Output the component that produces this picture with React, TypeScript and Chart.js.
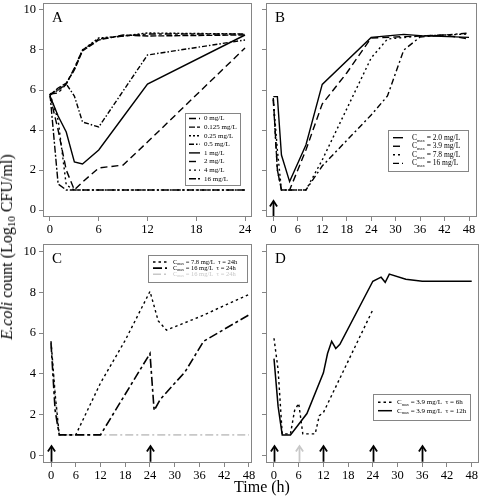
import React, { useEffect, useRef } from "react";
import { Chart, registerables } from "chart.js";
Chart.register(...registerables);

const SERIF = "'Liberation Serif', 'Times New Roman', serif";
const W = 481;
const H = 497;

// ---------------- Data ----------------
const yTicks = [0, 2, 4, 6, 8, 10];
const xTicksA = [0, 6, 12, 18, 24];
const xTicks48 = [0, 6, 12, 18, 24, 30, 36, 42, 48];

// Panel A: static time-kill
const labelsA = ["0 mg/L", "0.125 mg/L", "0.25 mg/L", "0.5 mg/L", "1 mg/L", "2 mg/L", "4 mg/L", "16 mg/L"];
const timesA = [0, 1, 2, 3, 4, 6, 9, 12, 24];
const countsA0 = [5.8, 5.85, 6.3, 7.1, 8.0, 8.55, 8.7, 8.8, 8.8];
const countsA0125 = [5.75, 6.1, 6.35, 7.0, 7.95, 8.5, 8.75, 8.7, 8.75];
const countsA025 = [5.8, 6.0, 6.3, 7.05, 8.0, 8.6, 8.7, 8.85, 8.8];
const countsA05 = [5.75, 6.0, 6.3, 5.7, 4.4, 4.15, 5.95, 7.75, 8.5];
const countsA1 = [5.7, 4.7, 3.9, 2.4, 2.3, 3.0, 4.65, 6.3, 8.75];
const countsA2 = [5.7, 4.0, 2.0, 1.0, 1.4, 2.1, 2.25, 3.4, 8.1];
const countsA4 = [5.8, 4.5, 1.25, 1.0, 1.0, 1.0, 1.0, 1.0, 1.0];
const countsA16 = [5.8, 1.3, 1.0, 1.0, 1.0, 1.0, 1.0, 1.0, 1.0];

// Panel B: single dose
const labelsB = ["Cmax = 2.0 mg/L", "Cmax = 3.9 mg/L", "Cmax = 7.8 mg/L", "Cmax = 16 mg/L"];
const timesB20 = [0, 1, 2, 4, 8, 12, 24, 32, 36, 48];
const countsB20 = [5.67, 5.67, 2.75, 1.42, 3.25, 6.28, 8.63, 8.78, 8.72, 8.63];
const timesB39 = [0, 1, 2, 4, 8, 12, 18, 24, 36, 42, 48];
const countsB39 = [5.6, 2.0, 1.0, 1.0, 3.0, 5.3, 6.85, 8.6, 8.7, 8.75, 8.55];
const timesB78 = [0, 1, 2, 8, 12, 24, 28, 36, 48];
const countsB78 = [5.55, 3.0, 1.0, 1.0, 2.5, 7.6, 8.55, 8.7, 8.8];
const timesB16 = [0, 1, 2, 8, 12, 24, 28, 32, 36, 48];
const countsB16 = [5.5, 2.0, 1.0, 1.0, 2.2, 4.75, 5.7, 8.0, 8.65, 8.85];
const doseTimesB = [0];

// Panel C: tau = 24 h
const labelsC = ["Cmax = 7.8 mg/L  \u03c4 = 24h", "Cmax = 16 mg/L  \u03c4 = 24h", "Cmax = 16 mg/L  \u03c4 = 24h"];
const timesC78 = [0, 1, 2, 6, 12, 18, 24, 26, 28, 36, 48];
const countsC78 = [5.6, 3.0, 1.0, 1.0, 3.55, 5.65, 8.05, 6.6, 6.15, 6.8, 7.9];
const timesC16a = [0, 1, 2, 12, 24, 25, 26.5, 32.5, 37, 48];
const countsC16a = [5.5, 2.2, 1.0, 1.0, 5.0, 2.2, 2.75, 4.1, 5.6, 6.9];
const timesC16b = [0, 1, 2, 48];
const countsC16b = [5.6, 3.0, 1.0, 1.0];
const doseTimesC = [0, 24];

// Panel D: Cmax 3.9 mg/L, tau = 6 h / 12 h
const labelsD = ["Cmax = 3.9 mg/L  \u03c4 = 6h", "Cmax = 3.9 mg/L  \u03c4 = 12h"];
const timesD6 = [0, 1, 2, 4, 5, 6, 7, 10, 11, 12, 24];
const countsD6 = [5.75, 4.2, 1.05, 1.05, 2.2, 2.55, 1.05, 1.05, 1.95, 2.1, 7.15];
const timesD12 = [0, 1, 2, 4, 8, 12, 13, 14, 15, 16, 24, 26, 27, 28, 32, 36, 48];
const countsD12 = [4.75, 2.4, 1.0, 1.0, 2.05, 4.05, 5.0, 5.6, 5.25, 5.45, 8.55, 8.75, 8.5, 8.9, 8.65, 8.55, 8.55];
const doseTimesD = [0, 12, 24, 36];
const doseTimesDExtra = [6];

// ---------------- Helpers ----------------
function series(label: string, times: number[], counts: number[], dash: number[], color = "#000", width = 1.4) {
  return {
    label,
    data: times.map((t, i) => ({ x: t, y: counts[i] })),
    borderColor: color,
    borderWidth: width,
    borderDash: dash,
    pointRadius: 0,
    tension: 0,
    fill: false,
  };
}

function drawLabel(ctx: CanvasRenderingContext2D, text: string, x: number, y: number, size: number, color: string) {
  ctx.fillStyle = color;
  ctx.textBaseline = "middle";
  ctx.textAlign = "left";
  let cx = x;
  let rest = text;
  if (text.startsWith("Cmax")) {
    ctx.font = `${size}px ${SERIF}`;
    ctx.fillText("C", cx, y);
    cx += ctx.measureText("C").width;
    ctx.font = `${size * 0.6}px ${SERIF}`;
    ctx.fillText("max", cx, y + size * 0.35);
    cx += ctx.measureText("max").width;
    rest = text.slice(4);
  }
  ctx.font = `${size}px ${SERIF}`;
  ctx.fillText(rest, cx, y);
}

const decoPlugin = {
  id: "deco",
  afterDatasetsDraw(chart: any, _args: any, opts: any) {
    const ctx: CanvasRenderingContext2D = chart.ctx;
    const xs = chart.scales.x;
    const ys = chart.scales.y;
    const ca = chart.chartArea;
    ctx.save();
    // dose arrows
    (opts.arrows || []).forEach((g: any) => {
      g.times.forEach((t: number) => {
        const px = Math.round(xs.getPixelForValue(t)) + 0.5;
        const yb = ys.getPixelForValue(-0.32);
        const yt = ys.getPixelForValue(0.45);
        ctx.strokeStyle = g.color;
        ctx.lineWidth = 1.8;
        ctx.setLineDash([]);
        ctx.beginPath();
        ctx.moveTo(px, yb);
        ctx.lineTo(px, yt + 1);
        ctx.stroke();
        ctx.beginPath();
        ctx.moveTo(px - 3.6, yt + 5.5);
        ctx.lineTo(px, yt);
        ctx.lineTo(px + 3.6, yt + 5.5);
        ctx.stroke();
      });
    });
    ctx.restore();
  },
  afterDraw(chart: any, _args: any, opts: any) {
    const ctx: CanvasRenderingContext2D = chart.ctx;
    const ca = chart.chartArea;
    ctx.save();
    // plot box
    ctx.strokeStyle = "#858585";
    ctx.lineWidth = 1;
    ctx.setLineDash([]);
    ctx.strokeRect(Math.round(ca.left) + 0.5, Math.round(ca.top) + 0.5, Math.round(ca.right - ca.left) - 1, Math.round(ca.bottom - ca.top) - 1);
    // panel letter
    ctx.fillStyle = "#000";
    ctx.font = `15px ${SERIF}`;
    ctx.textAlign = "left";
    ctx.textBaseline = "alphabetic";
    ctx.fillText(opts.letter, ca.left + 9, ca.top + 18.5);
    // legend
    const lg = opts.legend;
    if (lg) {
      ctx.strokeStyle = "#858585";
      ctx.lineWidth = 1;
      ctx.strokeRect(Math.round(lg.x) + 0.5, Math.round(lg.y) + 0.5, Math.round(lg.w), Math.round(lg.h));
      chart.data.datasets.forEach((ds: any, i: number) => {
        const ry = lg.firstRow + i * lg.rowH;
        ctx.beginPath();
        ctx.setLineDash(ds.borderDash || []);
        ctx.strokeStyle = ds.borderColor;
        ctx.lineWidth = ds.borderWidth;
        ctx.moveTo(lg.sampleX, ry);
        ctx.lineTo(lg.sampleX + lg.sampleW, ry);
        ctx.stroke();
        ctx.setLineDash([]);
        drawLabel(ctx, ds.label, lg.textX, ry, lg.font, ds.borderColor === "#000" ? "#000" : ds.borderColor);
      });
    }
    ctx.restore();
  },
};

type Panel = {
  box: [number, number, number, number];
  xMin: number;
  xMax: number;
  xTicks: number[];
  yLabels: boolean;
  letter: string;
  datasets: any[];
  legend: any;
  arrows: any[];
};

const panels: Panel[] = [
  {
    box: [43, 3, 252, 217],
    xMin: -0.86,
    xMax: 24.86,
    xTicks: xTicksA,
    yLabels: true,
    letter: "A",
    datasets: [
      series(labelsA[0], timesA, countsA0, [7, 3, 3, 3]),
      series(labelsA[1], timesA, countsA0125, [6, 2]),
      series(labelsA[2], timesA, countsA025, [2, 2]),
      series(labelsA[3], timesA, countsA05, [5, 2, 1.5, 2]),
      series(labelsA[4], timesA, countsA1, []),
      series(labelsA[5], timesA, countsA2, [7, 4]),
      series(labelsA[6], timesA, countsA4, [2, 3]),
      series(labelsA[7], timesA, countsA16, [7, 2, 2, 2]),
    ],
    legend: { x: 185, y: 113, w: 55, h: 72, firstRow: 118.5, rowH: 8.6, sampleX: 189, sampleW: 11, textX: 204, font: 7 },
    arrows: [],
  },
  {
    box: [266, 3, 477, 217],
    xMin: -1.79,
    xMax: 49.96,
    xTicks: xTicks48,
    yLabels: false,
    letter: "B",
    datasets: [
      series(labelsB[0], timesB20, countsB20, []),
      series(labelsB[1], timesB39, countsB39, [7, 4]),
      series(labelsB[2], timesB78, countsB78, [2, 3]),
      series(labelsB[3], timesB16, countsB16, [6, 3, 2, 3]),
    ],
    legend: { x: 388, y: 130, w: 80, h: 41, firstRow: 137.7, rowH: 8.55, sampleX: 393, sampleW: 10, textX: 412, font: 7.5 },
    arrows: [{ times: doseTimesB, color: "#000" }],
  },
  {
    box: [43, 244, 252, 463],
    xMin: -1.94,
    xMax: 48.73,
    xTicks: xTicks48,
    yLabels: true,
    letter: "C",
    datasets: [
      series(labelsC[0], timesC78, countsC78, [2.5, 3]),
      series(labelsC[1], timesC16a, countsC16a, [9, 3, 3, 3], "#000", 1.6),
      series(labelsC[2], timesC16b, countsC16b, [8, 3, 2, 3], "#c8c8c8", 1.6),
    ],
    legend: { x: 148, y: 255, w: 99, h: 27, firstRow: 262, rowH: 6.1, sampleX: 153, sampleW: 14, textX: 173, font: 6.5 },
    arrows: [{ times: doseTimesC, color: "#000" }],
  },
  {
    box: [266, 244, 479, 463],
    xMin: -1.94,
    xMax: 49.77,
    xTicks: xTicks48,
    yLabels: false,
    letter: "D",
    datasets: [
      series(labelsD[0], timesD6, countsD6, [2.5, 3]),
      series(labelsD[1], timesD12, countsD12, [], "#000", 1.5),
    ],
    legend: { x: 373, y: 394, w: 97, h: 26, firstRow: 402.3, rowH: 8.4, sampleX: 378, sampleW: 14, textX: 397, font: 7 },
    arrows: [
      { times: doseTimesD, color: "#000" },
      { times: doseTimesDExtra, color: "#c8c8c8" },
    ],
  },
];

function buildConfig(p: Panel): any {
  const [l, t, r, b] = p.box;
  const yW = p.yLabels ? 43 : 10;
  const xH = 22;
  const tickFont = { family: SERIF, size: 12.5 };
  const grid = { display: true, drawOnChartArea: false, drawTicks: true, tickLength: 4, color: "#858585", lineWidth: 1 };
  return {
    type: "line",
    data: { datasets: p.datasets },
    options: {
      animation: false,
      responsive: false,
      events: [],
      parsing: true,
      layout: { padding: { left: l - yW, top: t, right: W - r, bottom: H - b - xH } },
      plugins: {
        legend: { display: false },
        tooltip: { enabled: false },
        deco: { letter: p.letter, legend: p.legend, arrows: p.arrows },
      },
      scales: {
        x: {
          type: "linear",
          min: p.xMin,
          max: p.xMax,
          afterBuildTicks: (s: any) => {
            s.ticks = p.xTicks.map((v) => ({ value: v }));
          },
          afterFit: (s: any) => {
            s.height = xH;
            s.paddingLeft = 0;
            s.paddingRight = 0;
          },
          grid,
          border: { display: false },
          ticks: { font: tickFont, color: "#000", padding: 1, maxRotation: 0, autoSkip: false },
        },
        y: {
          type: "linear",
          min: p.box[1] < 100 ? -0.35 : -0.38,
          max: p.box[1] < 100 ? 10.35 : 10.38,
          afterBuildTicks: (s: any) => {
            s.ticks = yTicks.map((v) => ({ value: v }));
          },
          afterFit: (s: any) => {
            s.width = yW;
            s.paddingTop = 0;
            s.paddingBottom = 0;
          },
          grid,
          border: { display: false },
          ticks: { display: p.yLabels, font: tickFont, color: "#000", padding: 3, autoSkip: false },
        },
      },
    },
    plugins: [decoPlugin],
  };
}

export default function App() {
  const canvases = useRef<(HTMLCanvasElement | null)[]>([]);
  useEffect(() => {
    const charts = panels.map((p, i) => new Chart(canvases.current[i] as HTMLCanvasElement, buildConfig(p)));
    return () => charts.forEach((c) => c.destroy());
  }, []);
  return (
    <div style={{ position: "fixed", left: 0, top: 0, width: W, height: H, background: "#fff", overflow: "hidden" }}>
      {panels.map((p, i) => (
        <canvas
          key={p.letter}
          ref={(el) => {
            canvases.current[i] = el;
          }}
          width={W}
          height={H}
          style={{ position: "absolute", left: 0, top: 0, width: W, height: H }}
        />
      ))}
      <div
        style={{
          position: "absolute",
          left: 9,
          top: 247,
          transform: "translate(-50%, -50%) rotate(-90deg)",
          whiteSpace: "nowrap",
          fontFamily: SERIF,
          fontSize: 16,
          color: "#000",
          lineHeight: "18px",
        }}
      >
        <i>E.coli</i> count (Log<sub style={{ fontSize: 11, verticalAlign: "-3px" }}>10</sub> CFU/ml)
      </div>
      <div
        style={{
          position: "absolute",
          left: 262,
          top: 487,
          transform: "translate(-50%, -50%)",
          whiteSpace: "nowrap",
          fontFamily: SERIF,
          fontSize: 16,
          color: "#000",
          lineHeight: "18px",
        }}
      >
        Time (h)
      </div>
    </div>
  );
}
